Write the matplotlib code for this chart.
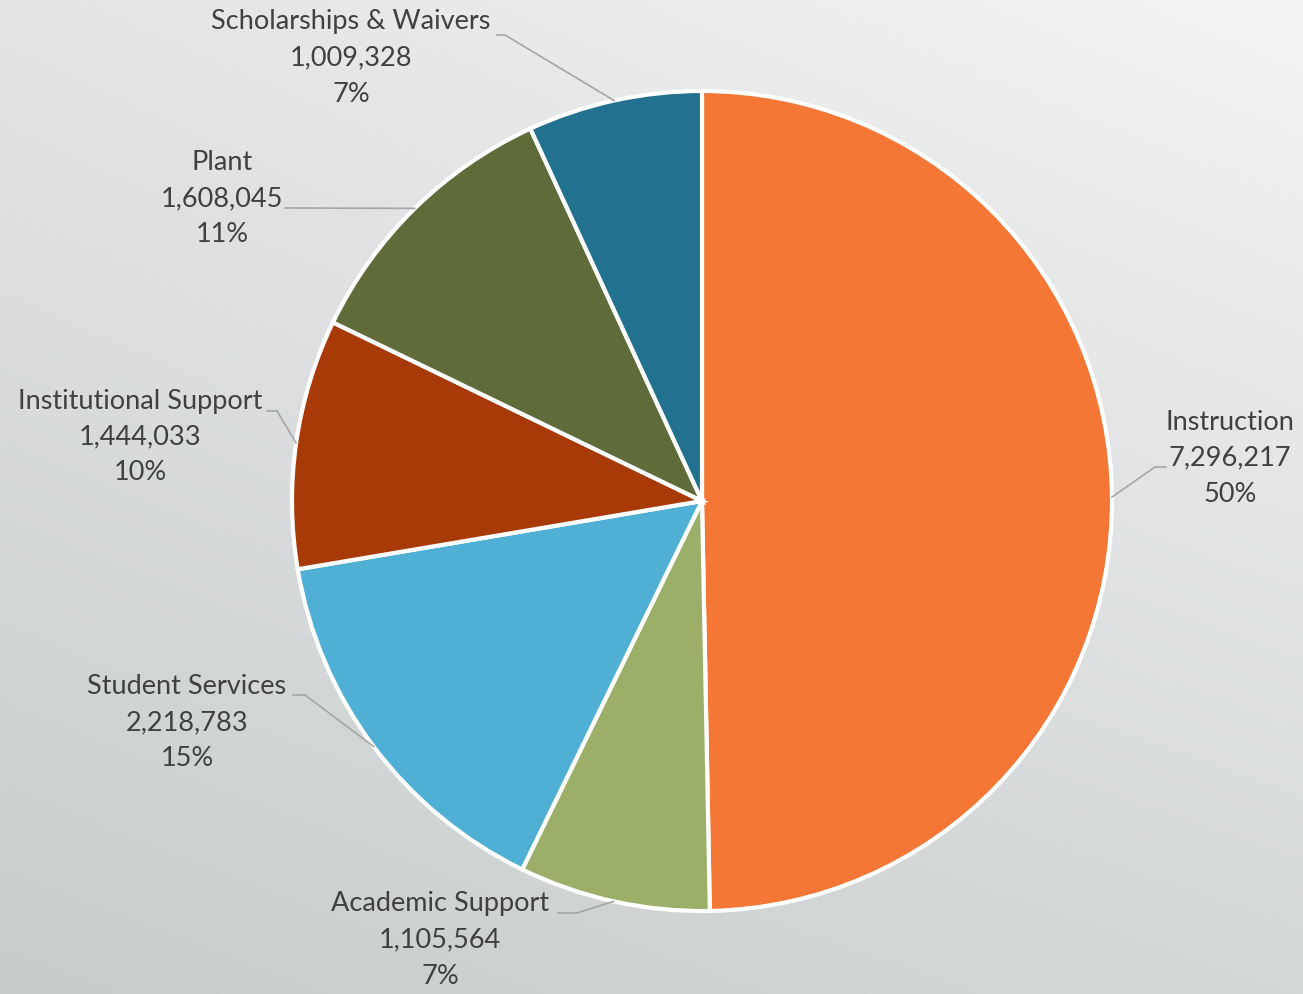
import matplotlib.pyplot as plt
import numpy as np

# expense categories, clockwise from 12 o'clock
categories = ["Instruction", "Academic Support", "Student Services",
              "Institutional Support", "Plant", "Scholarships & Waivers"]
amounts = [7296217, 1105564, 2218783, 1444033, 1608045, 1009328]
pct_labels = ["50%", "7%", "15%", "10%", "11%", "7%"]
colors = ["#F47735", "#9BAF68", "#4FAFD5", "#A83A08", "#5F6C3A", "#22718E"]

# label block centre (x, middle line y) in pixels, leader start and elbow
label_pos = [(1230, 458), (440, 940), (187, 723), (140, 437), (222, 199), (351, 58)]
leader_start = [(1166, 467), (558, 913), (293, 695), (267, 411), (285, 208), (497, 35)]
leader_elbow = [(1155, 467), (577, 913), (305, 695), (277, 411), (285, 208), (505, 35)]

W, H = 1303, 994
fig = plt.figure(figsize=(W / 100, H / 100), dpi=100)
ax = fig.add_axes([0, 0, 1, 1])

# soft grey background, light top-right, darker bottom-left
tl = np.array([0xe3, 0xe4, 0xe5]) / 255
tr = np.array([0xf3, 0xf4, 0xf4]) / 255
bl = np.array([0xc8, 0xcc, 0xcd]) / 255
br = np.array([0xd5, 0xd8, 0xd9]) / 255
u = np.linspace(0, 1, 200)[None, :, None]
v = np.linspace(0, 1, 200)[:, None, None]
bg = (1 - v) * ((1 - u) * tl + u * tr) + v * ((1 - u) * bl + u * br)
ax.imshow(bg, extent=(0, W, 0, H), origin="upper", aspect="auto", zorder=0)

cx, cy, r = 702, H - 501, 410
wedges, _ = ax.pie(amounts, colors=colors, startangle=90, counterclock=False,
                   center=(cx, cy), radius=r, frame=True,
                   wedgeprops=dict(edgecolor="white", linewidth=3))
ax.set_xlim(0, W)
ax.set_ylim(0, H)
ax.axis("off")

txt_color = "#404040"
for i, w in enumerate(wedges):
    mid = np.deg2rad((w.theta1 + w.theta2) / 2)
    px, py = cx + r * np.cos(mid), cy + r * np.sin(mid)
    sx, sy = leader_start[i]
    ex, ey = leader_elbow[i]
    ax.plot([sx, ex, px], [H - sy, H - ey, py], color="#a6a6a6", lw=1.2, zorder=3)

    lx, ly = label_pos[i]
    lines = [categories[i], f"{amounts[i]:,}", pct_labels[i]]
    for k, s in enumerate(lines):
        ax.text(lx, H - (ly + (k - 1) * 36), s, ha="center", va="center",
                fontsize=19.5, family="Lato", color=txt_color, zorder=4)

fig.savefig("out.png", dpi=100)
plt.close(fig)
